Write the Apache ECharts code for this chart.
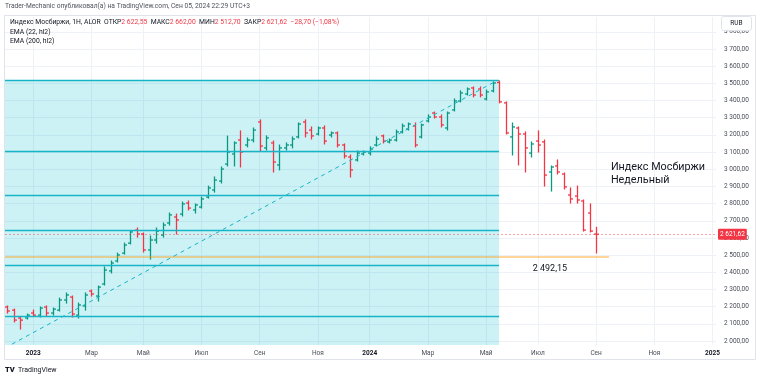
<!DOCTYPE html>
<html><head><meta charset="utf-8">
<script src="https://cdn.jsdelivr.net/npm/echarts@6/dist/echarts.min.js"></script>
<style>html,body{margin:0;padding:0;background:#fff}#c{width:758px;height:379px}</style>
</head><body><div id="c"></div>
<script>
// ---- data (weekly bars, IMOEX) ----
const firstWeek = Date.UTC(2022, 11, 5); // Monday of first weekly bar
const opens  = [2198,2180,2134,2134,2163,2151,2198,2163,2180,2239,2256,2151,2204,2291,2262,2332,2408,2466,2512,2570,2646,2623,2530,2588,2617,2687,2722,2739,2803,2763,2780,2838,2879,2931,3030,3089,3170,3141,3170,3275,3124,3153,3025,3124,3141,3188,3275,3228,3205,3240,3199,3211,3141,3071,3054,3089,3094,3141,3194,3159,3170,3217,3234,3252,3188,3281,3327,3304,3240,3345,3397,3438,3473,3467,3409,3456,3505,3386,3188,3240,3205,3094,3164,3159,2984,3019,2972,2850,2844,2815,2745,2622.55];
const highs  = [2204,2186,2140,2157,2180,2198,2204,2192,2250,2280,2262,2221,2280,2297,2320,2431,2466,2512,2570,2640,2658,2629,2611,2658,2687,2745,2739,2809,2815,2798,2838,2902,2955,3013,3193,3159,3223,3182,3240,3287,3194,3164,3141,3153,3188,3269,3287,3246,3246,3252,3217,3217,3147,3083,3106,3106,3130,3188,3199,3176,3228,3263,3269,3269,3263,3316,3333,3316,3333,3409,3456,3473,3479,3479,3461,3508,3514,3392,3269,3246,3217,3159,3223,3170,3019,3054,2978,2891,2902,2821,2798,2662.00];
const lows   = [2163,2111,2070,2128,2146,2140,2146,2151,2175,2221,2140,2134,2180,2262,2233,2326,2396,2460,2506,2565,2605,2518,2477,2570,2605,2675,2623,2728,2763,2745,2774,2832,2867,2920,3019,3019,3013,3130,3159,3106,3112,2984,2996,3112,3124,3182,3188,3176,3199,3147,3188,3130,3065,2955,3048,3083,3083,3135,3153,3153,3164,3211,3228,3130,3182,3275,3298,3246,3228,3339,3392,3432,3421,3421,3403,3450,3386,3205,3083,3025,2984,3071,3100,2902,2873,2972,2885,2803,2803,2640,2635,2512.70];
const closes = [2175,2122,2122,2151,2151,2192,2163,2186,2239,2268,2157,2210,2268,2274,2314,2413,2454,2501,2559,2635,2623,2530,2588,2640,2675,2734,2705,2798,2774,2792,2827,2891,2937,3001,3100,3153,3100,3170,3228,3135,3182,3042,3124,3141,3176,3263,3211,3194,3240,3164,3211,3141,3077,2996,3094,3100,3118,3176,3164,3170,3217,3252,3263,3141,3258,3304,3304,3258,3327,3397,3444,3467,3432,3432,3450,3502,3392,3211,3246,3205,3124,3147,3141,2966,3013,2984,2897,2827,2821,2646,2640,2621.62];

const xTickDates  = ['2023-01-02','2023-03-06','2023-05-01','2023-07-03','2023-09-04','2023-11-06','2024-01-01','2024-03-04','2024-05-06','2024-07-01','2024-09-02','2024-11-04','2025-01-06'];
const xTickLabels = ['2023','Мар','Май','Июл','Сен','Ноя','2024','Мар','Май','Июл','Сен','Ноя','2025'];
const yTicks = [2000,2100,2200,2300,2400,2500,2600,2700,2800,2900,3000,3100,3200,3300,3400,3500,3600,3700,3800];

const fibLevels = [3515, 3104, 2848, 2644, 2441, 2146];
const fibEnd = '2024-05-20';
const supportLevel = 2492.15;
const supportEnd = '2024-09-16';
const trendStart = ['2022-12-10', 1982];
const trendEnd = ['2024-05-15', 3508];
const noteText = ['Индекс Мосбиржи', 'Недельный'];
const notePos = ['2024-09-18', 2972];
const supportLabelPos = ['2024-07-14', 2419];
const prevClose = 2650.32;

// ---- helpers ----
const DAY = 86400000;
const ts = s => Date.parse(s + 'T00:00:00Z');
const xMin = Date.UTC(2022, 11, 2, 12);
const xMax = Date.UTC(2025, 0, 9, 17);
const yMin = 1977, yMax = 3886;
function fmt(v) {
  const s = Number(v).toFixed(2).split('.');
  return s[0].replace(/\B(?=(\d{3})+(?!\d))/g, ' ') + ',' + s[1];
}
const bars = opens.map((o, i) => [firstWeek + i * 7 * DAY, o, highs[i], lows[i], closes[i]]);
const tickTs = xTickDates.map(ts);
const last = bars.length - 1;
const chg = closes[last] - prevClose;
const chgPct = chg / prevClose * 100;
const minus = v => (v < 0 ? '−' : '+') + fmt(Math.abs(v));

const FONT = 'Roboto, "Noto Sans", sans-serif';
const GREEN = '#089981', RED = '#f23645';
const FIB = '#17b3c6';

const chart = echarts.init(document.getElementById('c'), null, {renderer: 'canvas'});
chart.setOption({
  animation: false,
  backgroundColor: '#ffffff',
  textStyle: {fontFamily: FONT},
  grid: {left: 5, right: 42, top: 17, bottom: 34},
  xAxis: {
    type: 'value', min: xMin, max: xMax, scale: true,
    axisLine: {show: false},
    axisTick: {show: false, customValues: tickTs},
    splitLine: {show: true, lineStyle: {color: '#eef1f6', width: 1}},
    axisLabel: {
      customValues: tickTs, margin: 5, fontSize: 6.5, color: '#4a4e59', fontFamily: FONT,
      formatter: v => {
        const i = tickTs.indexOf(v);
        const t = i >= 0 ? xTickLabels[i] : '';
        return /^\d{4}$/.test(t) ? '{b|' + t + '}' : t;
      },
      rich: {b: {fontWeight: 'bold', fontSize: 6.5, color: '#131722', fontFamily: FONT}}
    }
  },
  yAxis: {
    type: 'value', position: 'right', min: yMin, max: yMax, scale: true,
    axisLine: {show: false},
    axisTick: {show: false, customValues: yTicks},
    splitLine: {show: true, lineStyle: {color: '#eef1f6', width: 1}},
    axisLabel: {customValues: yTicks, margin: 8, fontSize: 6.5, color: '#4a4e59', fontFamily: FONT, formatter: v => fmt(v)}
  },
  series: [{
    type: 'custom',
    clip: true,
    data: bars,
    encode: {x: 0, y: [1, 2, 3, 4]},
    renderItem: function (params, api) {
      const t = api.value(0);
      const o = api.coord([t, api.value(1)]);
      const h = api.coord([t, api.value(2)]);
      const l = api.coord([t, api.value(3)]);
      const c = api.coord([t, api.value(4)]);
      const col = api.value(4) >= api.value(1) ? GREEN : RED;
      const x = Math.round(h[0]) + 0.5;
      const tk = 2.5, lw = 1.3;
      return {type: 'group', children: [
        {type: 'line', shape: {x1: x, y1: h[1] - 0.5, x2: x, y2: l[1] + 0.5}, style: {stroke: col, lineWidth: lw}},
        {type: 'line', shape: {x1: x - tk, y1: o[1], x2: x, y2: o[1]}, style: {stroke: col, lineWidth: lw}},
        {type: 'line', shape: {x1: x, y1: c[1], x2: x + tk, y2: c[1]}, style: {stroke: col, lineWidth: lw}}
      ]};
    },
    markArea: {
      silent: true,
      itemStyle: {color: 'rgba(0,188,212,0.2)'},
      data: [[{coord: [xMin, fibLevels[0]]}, {coord: [ts(fibEnd), yMin]}]]
    },
    markLine: {
      silent: true, symbol: 'none', precision: 2,
      label: {show: false},
      data: [
        ...fibLevels.map(v => [
          {coord: [xMin, v], lineStyle: {color: FIB, width: 1.4, type: 'solid'}},
          {coord: [ts(fibEnd), v]}
        ]),
        [
          {coord: [xMin, supportLevel], lineStyle: {color: 'rgba(255,152,0,0.4)', width: 2, type: 'solid'}},
          {coord: [ts(supportEnd), supportLevel]}
        ],
        [
          {coord: [ts(trendStart[0]), trendStart[1]], lineStyle: {color: FIB, width: 1, type: [4, 4]}},
          {coord: [ts(trendEnd[0]), trendEnd[1]]}
        ],
        {
          yAxis: closes[last],
          lineStyle: {color: 'rgba(242,54,69,0.45)', width: 1, type: [2, 2]},
          label: {
            show: true, position: 'end', distance: 2, formatter: fmt(closes[last]),
            backgroundColor: RED, color: '#ffffff', fontSize: 6.5, fontFamily: FONT,
            padding: [2, 2, 2, 2], borderRadius: 1
          }
        }
      ]
    },
    markPoint: {
      silent: true, symbol: 'circle', symbolSize: 0,
      data: [
        {coord: [ts(notePos[0]), notePos[1]], label: {show: true, position: 'inside', align: 'left', verticalAlign: 'middle',
          formatter: noteText.join('\n'), fontSize: 10.8, lineHeight: 13, color: '#131722', fontFamily: FONT}},
        {coord: [ts(supportLabelPos[0]), supportLabelPos[1]], label: {show: true, position: 'inside', align: 'center', verticalAlign: 'middle',
          formatter: fmt(supportLevel), fontSize: 9, color: '#131722', fontFamily: FONT}}
      ]
    }
  }],
  graphic: [
    {type: 'rect', z: 100, shape: {x: 4.5, y: 15.5, width: 751, height: 344}, style: {fill: 'none', stroke: '#e0e3eb', lineWidth: 1}},
    {type: 'text', z: 100, left: 5, top: 3, style: {text: 'Trader-Mechanic опубликовал(а) на TradingView.com, Сен 05, 2024 22:29 UTC+3', fontSize: 6.7, fill: '#50535e', fontFamily: FONT}},
    {type: 'text', z: 100, left: 10, top: 19, style: {
      text: '{n|Индекс Мосбиржи, 1Н, ALOR}  {k|ОТКР}{v|' + fmt(opens[last]) + '}  {k|МАКС}{v|' + fmt(highs[last]) + '}  {k|МИН}{v|' + fmt(lows[last]) + '}  {k|ЗАКР}{v|' + fmt(closes[last]) + '}  {v|' + minus(chg) + ' (' + minus(chgPct) + '%)}',
      fontSize: 6.8, fontFamily: FONT,
      rich: {n: {fill: '#131722', fontSize: 6.8, fontFamily: FONT}, k: {fill: '#131722', fontSize: 6.8, fontFamily: FONT}, v: {fill: RED, fontSize: 6.8, fontFamily: FONT}}
    }},
    {type: 'text', z: 100, left: 10, top: 29, style: {text: 'EMA (22, hl2)', fontSize: 6.8, fill: '#131722', fontFamily: FONT}},
    {type: 'text', z: 100, left: 10, top: 38, style: {text: 'EMA (200, hl2)', fontSize: 6.8, fill: '#131722', fontFamily: FONT}},
    {type: 'rect', z: 100, shape: {x: 721.5, y: 16.5, width: 30, height: 14, r: 2}, style: {fill: '#ffffff', stroke: '#e0e3eb', lineWidth: 1}},
    {type: 'text', z: 101, x: 736.5, y: 23.5, style: {text: 'RUB', fontSize: 6.5, fill: '#131722', align: 'center', verticalAlign: 'middle', fontFamily: FONT}},
    {type: 'text', z: 100, left: 5, top: 364, style: {text: '{l|TV} {t|TradingView}', rich: {l: {fontSize: 7.5, fontWeight: 900, fill: '#131722', fontFamily: FONT}, t: {fontSize: 7, fill: '#131722', fontFamily: FONT}}}}
  ]
});
</script></body></html>
